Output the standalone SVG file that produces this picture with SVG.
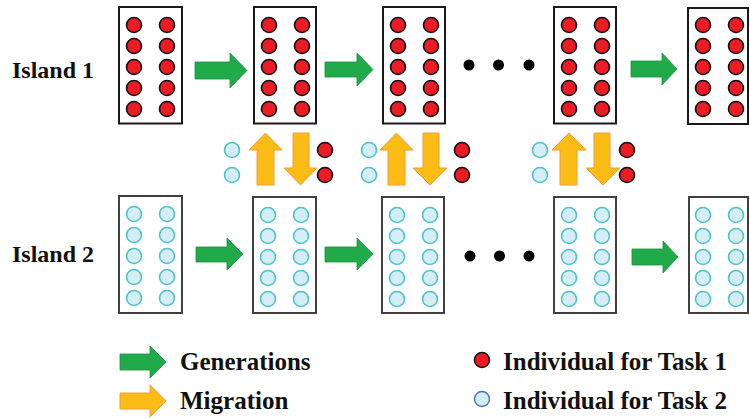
<svg xmlns="http://www.w3.org/2000/svg" xmlns:xlink="http://www.w3.org/1999/xlink" width="750" height="419" viewBox="0 0 750 419">
  <style>
    .box { fill: #ffffff; stroke: #1a1a1a; stroke-width: 2; }
    .box2 { fill: #ffffff; stroke: #404040; stroke-width: 2; }
    .t1 { fill: #ec1c24; stroke: #111111; stroke-width: 1.6; }
    .t2 { fill: #d5edf4; stroke: #4cc2c9; stroke-width: 1.6; }
    .t2leg { fill: #d5edf4; stroke: #4a6fc0; stroke-width: 1.4; }
    .gen { fill: #20aa4a; stroke: #1b8f3c; stroke-width: 0.8; }
    .mig { fill: #fbbd15; stroke: #f59a3c; stroke-width: 1; }
    .dot { fill: #000000; }
    .label { font-family: "Liberation Serif", "Times New Roman", serif; font-weight: bold; font-size: 24px; fill: #111111; }
    .legend-text { font-size: 25px; }
  </style>
  <defs>
    <!-- 2x5 grid of individuals, placed relative to a box's top-left corner -->
    <g id="gridRed">
      <circle class="t1" cx="15" cy="18" r="7.5"/>
      <circle class="t1" cx="48" cy="18" r="7.5"/>
      <circle class="t1" cx="15" cy="39" r="7.5"/>
      <circle class="t1" cx="48" cy="39" r="7.5"/>
      <circle class="t1" cx="15" cy="60" r="7.5"/>
      <circle class="t1" cx="48" cy="60" r="7.5"/>
      <circle class="t1" cx="15" cy="81" r="7.5"/>
      <circle class="t1" cx="48" cy="81" r="7.5"/>
      <circle class="t1" cx="15" cy="102" r="7.5"/>
      <circle class="t1" cx="48" cy="102" r="7.5"/>
    </g>
    <g id="gridCyan">
      <circle class="t2" cx="15" cy="18" r="7.5"/>
      <circle class="t2" cx="48" cy="18" r="7.5"/>
      <circle class="t2" cx="15" cy="39" r="7.5"/>
      <circle class="t2" cx="48" cy="39" r="7.5"/>
      <circle class="t2" cx="15" cy="60" r="7.5"/>
      <circle class="t2" cx="48" cy="60" r="7.5"/>
      <circle class="t2" cx="15" cy="81" r="7.5"/>
      <circle class="t2" cx="48" cy="81" r="7.5"/>
      <circle class="t2" cx="15" cy="102" r="7.5"/>
      <circle class="t2" cx="48" cy="102" r="7.5"/>
    </g>
  </defs>

  <rect width="750" height="419" fill="#ffffff"/>

  <!-- row labels -->
  <g id="labels">
    <text class="label" x="12" y="78">Island 1</text>
    <text class="label" x="12" y="262">Island 2</text>
  </g>

  <!-- Island 1 populations -->
  <g id="i1g1"><rect class="box" x="119" y="7" width="63" height="116.5"/><use xlink:href="#gridRed" x="119" y="7"/></g>
  <g id="i1g2"><rect class="box" x="254" y="7" width="62" height="116.5"/><use xlink:href="#gridRed" x="254" y="7"/></g>
  <g id="i1g3"><rect class="box" x="383" y="7" width="62" height="116.5"/><use xlink:href="#gridRed" x="383" y="7"/></g>
  <g id="i1g4"><rect class="box" x="554" y="7" width="62" height="116.5"/><use xlink:href="#gridRed" x="554" y="7"/></g>
  <g id="i1g5"><rect class="box" x="688" y="8" width="60" height="116"/><use xlink:href="#gridRed" x="688" y="7"/></g>

  <!-- Island 2 populations -->
  <g id="i2g1"><rect class="box2" x="119" y="196" width="63" height="117"/><use xlink:href="#gridCyan" x="119" y="196"/></g>
  <g id="i2g2"><rect class="box2" x="253" y="197" width="63" height="116"/><use xlink:href="#gridCyan" x="253" y="197"/></g>
  <g id="i2g3"><rect class="box2" x="382" y="197" width="62" height="116"/><use xlink:href="#gridCyan" x="382" y="197"/></g>
  <g id="i2g4"><rect class="box2" x="554" y="197" width="62" height="116"/><use xlink:href="#gridCyan" x="554" y="197"/></g>
  <g id="i2g5"><rect class="box2" x="689" y="197" width="59" height="116"/><use xlink:href="#gridCyan" x="688" y="197"/></g>

  <!-- ellipses between generations -->
  <g id="ellipsis1">
    <circle class="dot" cx="469" cy="65" r="5.5"/>
    <circle class="dot" cx="498.5" cy="65" r="5.5"/>
    <circle class="dot" cx="529" cy="65" r="5.5"/>
  </g>
  <g id="ellipsis2">
    <circle class="dot" cx="470" cy="256" r="5.5"/>
    <circle class="dot" cx="499.5" cy="256" r="5.5"/>
    <circle class="dot" cx="529" cy="256" r="5.5"/>
  </g>

  <!-- migrating individuals -->
  <g id="migrants1">
    <circle class="t2" cx="232" cy="150" r="7.5"/>
    <circle class="t2" cx="232" cy="175" r="7.5"/>
    <circle class="t1" cx="325" cy="150" r="7.5"/>
    <circle class="t1" cx="325" cy="175" r="7.5"/>
  </g>
  <g id="migrants2">
    <circle class="t2" cx="369" cy="150" r="7.5"/>
    <circle class="t2" cx="369" cy="175" r="7.5"/>
    <circle class="t1" cx="462" cy="150" r="7.5"/>
    <circle class="t1" cx="462" cy="175" r="7.5"/>
  </g>
  <g id="migrants3">
    <circle class="t2" cx="540" cy="150" r="7.5"/>
    <circle class="t2" cx="540" cy="175" r="7.5"/>
    <circle class="t1" cx="627" cy="150" r="7.5"/>
    <circle class="t1" cx="627" cy="175" r="7.5"/>
  </g>

  <!-- connectors: generation steps and migrations -->
  <g id="connectors">
    <path class="gen" d="M195,62 H230 V53 L247,70.5 L230,88 V79 H195 Z"/>
    <path class="gen" d="M325,62 H357 V53 L373,69.5 L357,86 V77 H325 Z"/>
    <path class="gen" d="M631,61 H662 V53 L677,69 L662,85 V77 H631 Z"/>

    <path class="gen" d="M196,247 H227 V238 L243,254 L227,270 V262 H196 Z"/>
    <path class="gen" d="M325,247 H357 V238 L373,254 L357,270 V262 H325 Z"/>
    <path class="gen" d="M632,249 H663 V241 L678,257 L663,273 V265 H632 Z"/>

    <path class="mig" d="M257,185 V150 H249 L265.5,133 L282,150 H274 V185 Z"/>
    <path class="mig" d="M293,133 H309 V168 H317 L300.5,185 L284,168 H293 Z"/>
    <path class="mig" d="M388,185 V150 H380 L396.5,133 L413,150 H405 V185 Z"/>
    <path class="mig" d="M423,133 H439 V168 H447 L430,185 L413,168 H423 Z"/>
    <path class="mig" d="M560,185 V150 H552 L569,133 L586,150 H577 V185 Z"/>
    <path class="mig" d="M594,133 H610 V168 H620 L603,185 L586,168 H594 Z"/>
  </g>

  <!-- legend -->
  <g id="legend">
    <path class="gen" d="M120,354 H150 V346 L166,362 L150,378 V370 H120 Z"/>
    <text class="label legend-text" x="180" y="370">Generations</text>
    <path class="mig" d="M120,393 H150 V385 L166,401 L150,417 V409 H120 Z"/>
    <text class="label legend-text" x="180" y="409">Migration</text>
    <circle class="t1" cx="482" cy="360" r="7.5"/>
    <text class="label legend-text" x="503" y="370">Individual for Task 1</text>
    <circle class="t2leg" cx="482" cy="399" r="7.5"/>
    <text class="label legend-text" x="503" y="409">Individual for Task 2</text>
  </g>
</svg>
